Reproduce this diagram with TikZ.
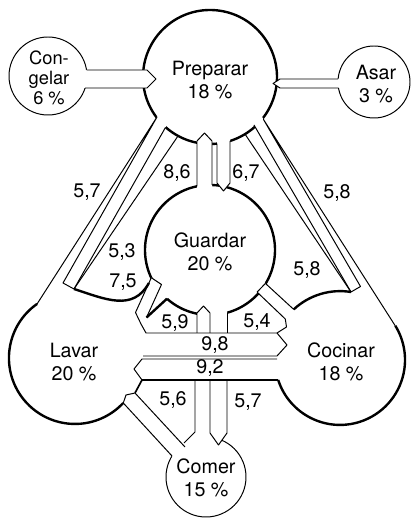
\documentclass[tikz,border=0pt]{standalone}
\usepackage{fontspec}
\setmainfont{TeX Gyre Heros}
\tikzset{
  rim/.style={line width=1.7pt},
  wall/.style={line width=0.7pt},
  lbl/.style={font=\fontsize{14}{16}\selectfont,align=center,inner sep=0pt},
}
\begin{document}
\begin{tikzpicture}[x=0.025cm,y=0.025cm,line join=round]
        \useasboundingbox (0,0) rectangle (414,519);
        \coordinate (pre) at (210,442);
        \coordinate (con) at (48,443);
        \coordinate (asa) at (374,437);
        \coordinate (gua) at (210,269);
        \coordinate (com) at (206,42);

        \draw[rim] (pre) circle (67);
        \draw[rim] (gua) circle (65);
        \draw[wall] (con) circle (39);
        \draw[wall] (asa) circle (36);
        \draw[wall] (com) circle (40);

        \fill[white] (80,449) -- (147,449) -- (156,440) -- (147,431) -- (80,431) -- cycle;
        \fill[white] (273,435.5) -- (280,440) -- (346,440) -- (346,431) -- (280,431) -- cycle;
        \fill[white] (197,325) -- (197,378) -- (204.5,386) -- (212,378) -- (212,325) -- cycle;
        \fill[white] (217,382) -- (230,382) -- (230,336) -- (223.5,328) -- (217,336) -- cycle;
        \fill[white] (162,411) -- (173,405) -- (74,230) -- (63,236) -- cycle;
        \fill[white] (249,402.6) -- (258.5,408.2) -- (360.5,232.5) -- (351,227) -- cycle;
        \fill[white] (151.3,241.3) -- (163,236) -- (170,224) -- (167,220.3) -- (146.5,201.5) -- (135.5,206.5) -- cycle;
        \fill[white] (259.6,241.1) -- (293.7,209.6) -- (285.3,200) -- (251.3,232.4) -- cycle;
        \fill[white] (197,198) -- (197,206) -- (203.5,213) -- (210,206) -- (210,209) -- (227,209) -- (227,198) -- cycle;
        \fill[white] (123.3,116) -- (135,126) -- (190.4,66.1) -- (177.4,57.1) -- cycle;
        \fill[white] (182,70) -- (182,80) -- (210,90) -- (210,86) -- (218.5,74) -- (210,70) -- cycle;
        \fill[white] (210,90) -- (210,86) -- (218.5,74) -- (227,86) -- (227,90) -- cycle;

        \draw[wall] (86.5,449) -- (147,449) -- (156,440) -- (147,431) -- (85,431);
        \draw[wall] (338,440) -- (280,440) -- (273,435.5) -- (280,431) -- (338.5,431);
        \draw[wall] (197,332.5) -- (197,378) -- (204.5,386) -- (212,378) -- (212,334);
        \draw[wall] (217,375.4) -- (217,336) -- (223.5,328) -- (230,336) -- (230,378);

        \draw[wall] (165.5,391.6) -- (74,230) -- (63,236) -- (157,402) -- (37.1,215.1);
        \draw[rim] (37.1,215.1) arc[start angle=125, end angle=317, radius=66];
        \draw[wall] (123.3,116) -- (172,63);
        \draw[wall] (185,72) -- (135,126) -- (126,124) -- (123.3,116);
        \draw[line width=1.2pt] (135,126) -- (142,139) -- (278.2,139);
        \draw[rim] (278.2,139) arc[start angle=198, end angle=391.7, radius=65];
        \draw[wall] (395.3,193.1) -- (263.5,399.5) -- (360.5,232.5) -- (351,227) -- (254,394);

        \draw[wall] (178,383) -- (74,230);
        \draw[wall] (245,384.9) -- (351,227);
        \draw[rim] (74,230) .. controls (105,220) and (133,207) .. (148.9,236);
        \draw[rim] (351,227) arc[start angle=80.8, end angle=133, radius=68];

        \draw[wall] (151.3,241.3) -- (135.5,206.5) -- (141,195) -- (146,186) -- (277,186) -- (287,174) -- (277,163) -- (143,163);
        \draw[wall] (151.3,241.3) -- (161.5,234.5) -- (146.5,201.5);
        \draw[rim] (146.5,201.5) -- (167,220.3);
        \draw[wall] (277,160) -- (142,160) -- (134,150) -- (142,139);

        \draw[wall] (197,186) -- (197,206) -- (203.5,213) -- (210,206) -- (210,186);
        \draw[wall] (227,186) -- (227,206.3);
        \draw[wall] (265.4,235.6) -- (293.7,209.6);
        \draw[wall] (265.4,235.6) -- (257.1,226.9) -- (285.3,200) -- (286.5,192) -- (277,186);

        \draw[wall] (195,139) -- (195,87) -- (184,76);
        \draw[wall] (210,139) -- (210,86) -- (218.5,74) -- (227,86) -- (227,139);

        \node[lbl] (preparar) at (210,439) {Preparar\\18 \%};
        \node[lbl,font=\fontsize{13}{14}\selectfont] (congelar) at (49,441) {Con-\\gelar\\6 \%};
        \node[lbl] (asar) at (376,435) {Asar\\3 \%};
        \node[lbl] (guardar) at (210,267) {Guardar\\20 \%};
        \node[lbl] (lavar) at (74,157) {Lavar\\20 \%};
        \node[lbl] (cocinar) at (341,157) {Cocinar\\18 \%};
        \node[lbl] (comer) at (206,41) {Comer\\15 \%};

        \node[lbl] (prelav) at (87,327) {5,7};
        \node[lbl] (guapre) at (177,346) {8,6};
        \node[lbl] (lavgua) at (122,267) {5,3};
        \node[lbl] (gualav) at (123,237) {7,5};
        \node[lbl] (pregua) at (246,346) {6,7};
        \node[lbl] (precoc) at (337,326) {5,8};
        \node[lbl] (cocgua) at (307,249) {5,8};
        \node[lbl] (lavgub) at (175,196) {5,9};
        \node[lbl] (guacoc) at (257,197) {5,4};
        \node[lbl] (lavcoc) at (215,174) {9,8};
        \node[lbl] (coclav) at (210,151) {9,2};
        \node[lbl] (lavcom) at (173,119) {5,6};
        \node[lbl] (coccom) at (248,117) {5,7};
\end{tikzpicture}
\end{document}
